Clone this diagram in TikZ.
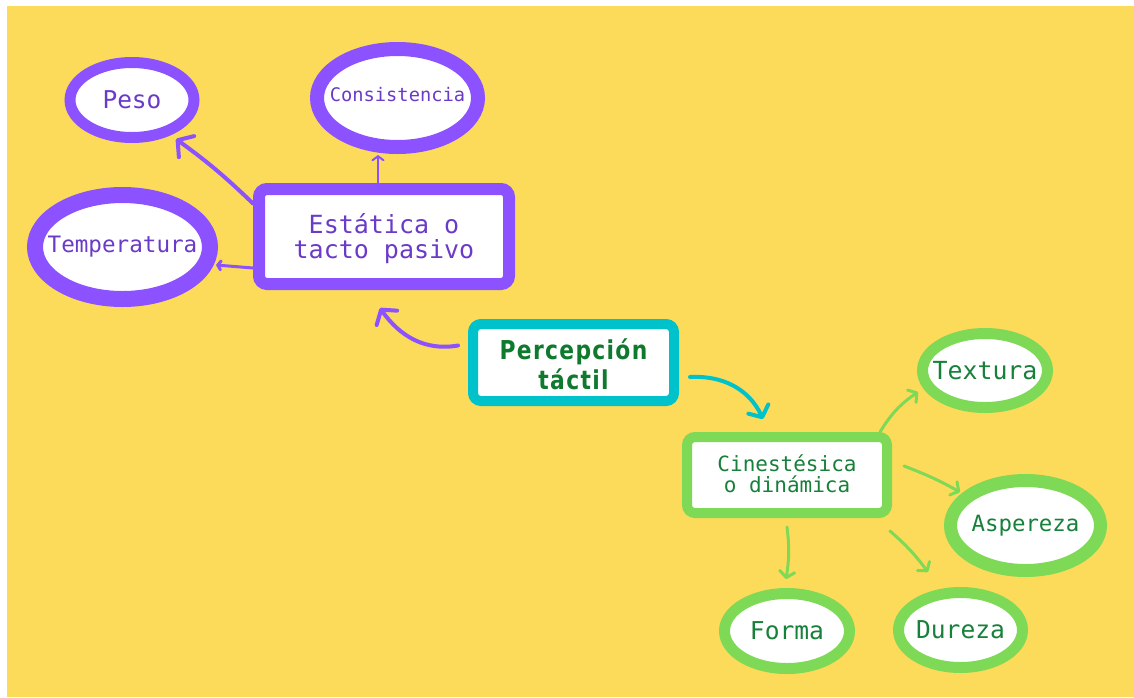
\documentclass[tikz,border=0pt]{standalone}
\usepackage{fontspec}
\usetikzlibrary{shapes.geometric,arrows.meta,calc}
\setmonofont{DejaVu Sans Mono}
\newfontfamily\titlefont[FakeStretch=0.84,LetterSpace=5]{DejaVu Sans}
\definecolor{bgy}{HTML}{FDDB5A}
\definecolor{pur}{HTML}{8C52FF}
\definecolor{purtxt}{HTML}{6A3AC8}
\definecolor{teal}{HTML}{00C2CB}
\definecolor{grn}{HTML}{7ED957}
\definecolor{grntxt}{HTML}{17803A}
\definecolor{titletxt}{HTML}{0F7A2E}
\tikzset{
  oval/.style={ellipse, draw, fill=white, inner sep=0pt},
  boxnode/.style={rectangle, draw, fill=white, rounded corners=8pt, inner sep=0pt},
  lbl/.style={font=\ttfamily\fontsize{#1}{#1}\selectfont, inner sep=0pt, align=center},
  parr/.style={draw=pur, line cap=round, line join=round},
  garr/.style={draw=grn, line width=3pt, line cap=round, line join=round,
    -{Straight Barb[length=6pt,width=15pt,line cap=round,line join=round]}},
}
\begin{document}
\begin{tikzpicture}[x=1pt,y=-1pt]
\useasboundingbox (0,0) rectangle (1134,697);
\fill[white] (0,0) rectangle (1134,697);
\fill[bgy] (7,6) rectangle (1134,697);

% purple nodes
\node[oval, draw=pur, line width=11pt, minimum width=124pt, minimum height=75pt] (peso) at (132,100) {};
\node[lbl=24.5, text=purtxt] at (peso.center) {Peso};
\node[oval, draw=pur, line width=16pt, minimum width=175pt, minimum height=104pt] (temp) at (122.5,247) {};
\node[lbl=22.6, text=purtxt] at (temp.center) {Temperatura};
\node[oval, draw=pur, line width=14pt, minimum width=161pt, minimum height=98pt] (cons) at (397.5,98) {};
\node[lbl=18.7, text=purtxt] at ([yshift=3pt]cons.center) {Consistencia};
\node[boxnode, draw=pur, line width=12pt, minimum width=250pt, minimum height=95pt] (est) at (384,236.5) {};
\node[font=\ttfamily\fontsize{25}{25}\selectfont, text=purtxt, align=center, inner sep=0pt] at ([yshift=-2pt]est.center) {Estática o\\tacto pasivo};

% central node
\node[boxnode, draw=teal, line width=10pt, minimum width=201pt, minimum height=77pt] (perc) at (573.5,362.5) {};
\node[font=\titlefont\bfseries\fontsize{26}{30}\selectfont, text=titletxt, align=center, inner sep=0pt] at ([yshift=-2pt]perc.center) {Percepción\\táctil};

% green nodes
\node[boxnode, draw=grn, line width=10pt, minimum width=200pt, minimum height=76pt] (cin) at (787,475) {};
\node[font=\ttfamily\fontsize{21}{21}\selectfont, text=grntxt, align=center, inner sep=0pt] at ([yshift=1pt]cin.center) {Cinestésica\\o dinámica};
\node[oval, draw=grn, line width=11pt, minimum width=125pt, minimum height=74pt] (tex) at (985,370.5) {};
\node[lbl=24.9, text=grntxt] at (tex.center) {Textura};
\node[oval, draw=grn, line width=13pt, minimum width=150pt, minimum height=90pt] (asp) at (1025.5,525.5) {};
\node[lbl=22.4, text=grntxt] at (asp.center) {Aspereza};
\node[oval, draw=grn, line width=11pt, minimum width=125pt, minimum height=75pt] (forma) at (787,631) {};
\node[lbl=24.6, text=grntxt] at (forma.center) {Forma};
\node[oval, draw=grn, line width=11pt, minimum width=124pt, minimum height=75pt] (dur) at (960.5,630) {};
\node[lbl=24.6, text=grntxt] at (dur.center) {Dureza};

% purple connectors
\draw[parr, line width=4pt, -{Straight Barb[length=11pt,width=26pt,line cap=round,line join=round]}]
  ([yshift=33pt]est.west) to[bend right=4] ([xshift=44pt,yshift=4pt]peso.south);
\draw[parr, line width=3pt, -{Straight Barb[length=3pt,width=9pt,line cap=round]}]
  ([yshift=-31.5pt]est.west) -- ([xshift=-2pt,yshift=-18pt]temp.east);
\draw[parr, line width=2pt, -{Straight Barb[length=4pt,width=11pt,line cap=round]}]
  ([xshift=-6pt]est.north) -- ([xshift=-19.5pt,yshift=-1pt]cons.south);
\draw[parr, line width=4pt, -{Straight Barb[length=10pt,width=25pt,line cap=round,line join=round]}]
  ([xshift=-10pt,yshift=17pt]perc.west) to[out=190,in=-55] ([xshift=-4pt,yshift=-18pt]est.south);

% teal connector
\draw[draw=teal, line width=4pt, line cap=round, -{Straight Barb[length=9pt,width=22pt,line cap=round,line join=round]}]
  ([xshift=11pt,yshift=-14.5pt]perc.east) to[out=3,in=115] ([xshift=-24pt,yshift=13pt]cin.north);

% green connectors
\draw[garr] ([xshift=-12pt]cin.north east) to[bend left=12] ([xshift=1pt,yshift=-21.5pt]tex.west);
\draw[garr] ([xshift=12pt,yshift=9pt]cin.east) to[bend left=4] ([xshift=16pt,yshift=33.5pt]asp.west);
\draw[garr] ([yshift=-9pt]cin.south) to[bend left=8] ([xshift=-1pt,yshift=9pt]forma.north);
\draw[garr] ([xshift=-2pt,yshift=-13pt]cin.south east) to[bend left=6] ([xshift=-32.5pt,yshift=15pt]dur.north);
\end{tikzpicture}
\end{document}
